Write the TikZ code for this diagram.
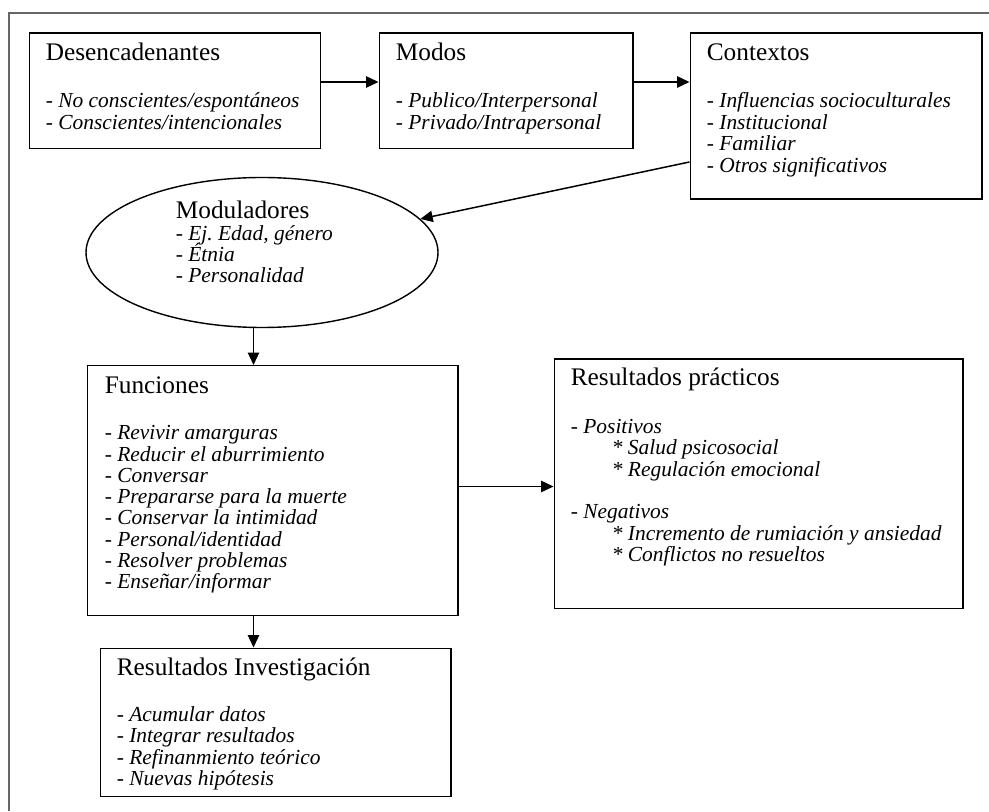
\documentclass[tikz,border=0pt]{standalone}
\usepackage{fontspec}
\setmainfont{Liberation Serif}
\usetikzlibrary{arrows.meta,shapes.geometric}

\tikzset{
  marco/.style={draw=black!60,line width=1.1pt},
  caja/.style={draw,line width=.85pt,inner sep=0pt,anchor=north west},
  titulo/.style={anchor=base west,inner sep=0pt,font=\fontsize{14.4}{16}\selectfont},
  item/.style={anchor=base west,inner sep=0pt,font=\fontsize{12.2}{12.2}\selectfont\itshape},
  flecha/.style={-{Triangle[length=7pt,width=6.4pt]},line width=.85pt}
}

\begin{document}
\begin{tikzpicture}
  \useasboundingbox (0,0) rectangle (19.78,16.22);
  % marco exterior (solo arriba e izquierda)
  \draw[marco] (0.18,0) -- (0.18,15.96) -- (19.78,15.96);

  % cajas
  \node[caja,minimum width=5.83cm,minimum height=2.31cm] (des) at (0.57,15.57) {};
  \node[caja,minimum width=5.07cm,minimum height=2.31cm] (mod) at (7.57,15.57) {};
  \node[caja,minimum width=5.83cm,minimum height=3.32cm] (ctx) at (13.79,15.57) {};
  \node[draw,ellipse,line width=.8pt,minimum width=7.04cm,minimum height=3.0cm]
    (modu) at (5.24,11.17) {};
  \node[caja,minimum width=7.40cm,minimum height=4.99cm] (fun) at (1.74,8.92) {};
  \node[caja,minimum width=8.17cm,minimum height=4.99cm] (rp) at (11.07,9.05) {};
  \node[caja,minimum width=7.00cm,minimum height=2.97cm] (ri) at (2.00,3.27) {};

  % Desencadenantes
  \node[titulo] (des-t) at ([shift={(0.34,-0.57)}]des.north west) {Desencadenantes};
  \foreach \txt [count=\i] in {{No conscientes/espontáneos},{Conscientes/intencionales}}
    \node[item] (des-\i) at ([shift={(0.34,-1.08-0.428*\i)}]des.north west) {- \txt};

  % Modos
  \node[titulo] (mod-t) at ([shift={(0.34,-0.57)}]mod.north west) {Modos};
  \foreach \txt [count=\i] in {{Publico/Interpersonal},{Privado/Intrapersonal}}
    \node[item] (mod-\i) at ([shift={(0.34,-1.08-0.428*\i)}]mod.north west) {- \txt};

  % Contextos
  \node[titulo] (ctx-t) at ([shift={(0.34,-0.57)}]ctx.north west) {Contextos};
  \foreach \txt [count=\i] in {{Influencias socioculturales},Institucional,Familiar,
      {Otros significativos}}
    \node[item] (ctx-\i) at ([shift={(0.34,-1.08-0.428*\i)}]ctx.north west) {- \txt};

  % Moduladores
  \node[titulo] (modu-t) at (3.51,11.84) {Moduladores};
  \foreach \txt [count=\i] in {{Ej.\ Edad, género},Étnia,Personalidad}
    \node[item] (modu-\i) at ([yshift={-0.424cm*\i}]modu-t.base west) {- \txt};

  % Funciones
  \node[titulo] (fun-t) at ([shift={(0.35,-0.57)}]fun.north west) {Funciones};
  \foreach \txt [count=\i] in {{Revivir amarguras},{Reducir el aburrimiento},Conversar,
      {Prepararse para la muerte},{Conservar la intimidad},{Personal/identidad},
      {Resolver problemas},{Enseñar/informar}}
    \node[item] (fun-\i) at ([shift={(0.35,-1.07-0.426*\i)}]fun.north west) {- \txt};

  % Resultados practicos
  \node[titulo] (rp-t) at ([shift={(0.34,-0.54)}]rp.north west) {Resultados prácticos};
  \foreach \k/\dx/\txt [count=\i] in {0/0/{- Positivos},1/0.82/{* Salud psicosocial},
      2/0.82/{* Regulación emocional},4/0/{- Negativos},
      5/0.82/{* Incremento de rumiación y ansiedad},6/0.82/{* Conflictos no resueltos}}
    \node[item] (rp-\i) at ([shift={(0.34+\dx,-1.50-0.427*\k)}]rp.north west) {\txt};

  % Resultados Investigacion
  \node[titulo] (ri-t) at ([shift={(0.33,-0.56)}]ri.north west) {Resultados Investigación};
  \foreach \txt [count=\i] in {{Acumular datos},{Integrar resultados},
      {Refinanmiento teórico},{Nuevas hipótesis}}
    \node[item] (ri-\i) at ([shift={(0.33,-1.05-0.427*\i)}]ri.north west) {- \txt};

  % flechas
  \coordinate (ctx-s) at ([yshift=0.76cm]ctx.south west);
  \coordinate (eje) at (5.07,0);
  \draw[flecha] ([yshift=0.18cm]des.east) -- ([yshift=0.18cm]des.east -| mod.west);
  \draw[flecha] ([yshift=0.18cm]mod.east) -- ([yshift=0.18cm]mod.east -| ctx.west);
  \draw[flecha] (ctx-s) -- (modu);
  \draw[flecha] (eje |- modu.south) -- (eje |- fun.north);
  \draw[flecha] ([yshift=0.08cm]fun.east) -- ([yshift=0.08cm]fun.east -| rp.west);
  \draw[flecha] (eje |- fun.south) -- (eje |- ri.north);
\end{tikzpicture}
\end{document}
